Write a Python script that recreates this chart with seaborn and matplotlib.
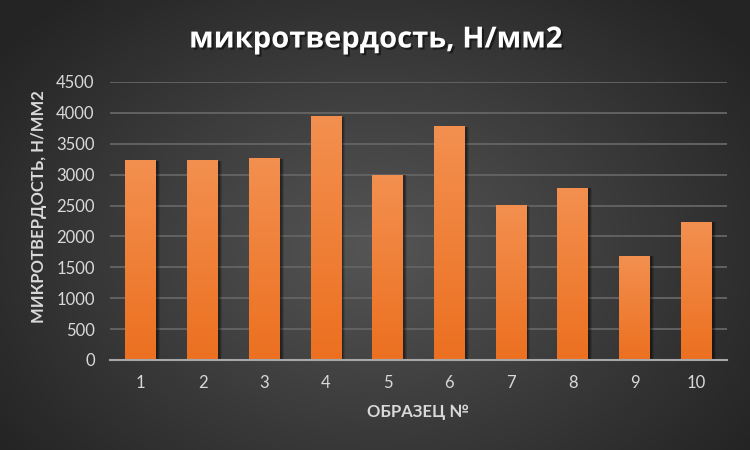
import numpy as np
import pandas as pd
import seaborn as sns
import matplotlib
matplotlib.use("Agg")
import matplotlib.pyplot as plt
import matplotlib.transforms as mtransforms
from matplotlib.patches import Rectangle
from matplotlib.colors import LinearSegmentedColormap
import matplotlib.patheffects as pe

# Data
samples = ["1", "2", "3", "4", "5", "6", "7", "8", "9", "10"]
hardness = [3240, 3240, 3270, 3950, 3000, 3780, 2510, 2790, 1690, 2240]
y_ticks = [0, 500, 1000, 1500, 2000, 2500, 3000, 3500, 4000, 4500]

title = "микротвердость, Н/мм2"
x_title = "ОБРАЗЕЦ №"
y_title = "МИКРОТВЕРДОСТЬ, Н/ММ2"

sns.set_theme(style="dark")
plt.rcParams['font.family'] = ['Lato', 'DejaVu Sans']

fig = plt.figure(figsize=(7.5, 4.5), dpi=100)

# Radial dark background
bg = fig.add_axes([0, 0, 1, 1], zorder=0)
gx, gy = np.meshgrid(np.linspace(0, 1, 750), np.linspace(0, 1, 450))
r = np.sqrt(((gx - 0.5) / 0.62) ** 2 + ((gy - 0.55) / 0.75) ** 2)
r = np.clip(r, 0, 1)
center = np.array([0x55, 0x55, 0x55]) / 255
edge = np.array([0x24, 0x24, 0x24]) / 255
img = center[None, None, :] * (1 - r[..., None]) + edge[None, None, :] * r[..., None]
bg.imshow(img, extent=[0, 1, 0, 1], aspect="auto", origin="upper")
bg.set_axis_off()

# Main axes
ax = fig.add_axes([110 / 750, 1 - 360 / 450, 617 / 750, (360 - 82) / 450], zorder=1)
ax.patch.set_alpha(0)
df = pd.DataFrame({"sample": samples, "hardness": hardness})
sns.barplot(data=df, x="sample", y="hardness", color="#f08030",
            width=0.5, saturation=1, linewidth=0, edgecolor="none", ax=ax, zorder=3)

# Orange vertical gradient fill and soft shadow on each bar
bar_cmap = LinearSegmentedColormap.from_list("bar", ["#ec7020", "#f39050"])
grad = np.linspace(0, 1, 256).reshape(-1, 1)
for patch in list(ax.patches):
    patch.set_linewidth(0)
    patch.set_edgecolor("none")
    x0, w, h = patch.get_x(), patch.get_width(), patch.get_height()
    for k, a in [(4, 0.12), (3, 0.18), (2, 0.25)]:
        off = mtransforms.offset_copy(ax.transData, fig=fig, x=k * 0.72, y=-0.5, units="points")
        ax.add_patch(Rectangle((x0, 0), w, h, transform=off, facecolor="black",
                               edgecolor="none", linewidth=0, alpha=a, zorder=2))
    im = ax.imshow(grad, extent=[x0, x0 + w, 0, h], origin="lower", aspect="auto",
                   cmap=bar_cmap, zorder=3.5)
    im.set_clip_path(patch)

ax.set_xlim(-0.5, len(samples) - 0.5)
ax.set_ylim(0, 4500)
ax.set_yticks(y_ticks)
ax.yaxis.grid(True, color="#626262", linewidth=1.4)
ax.xaxis.grid(False)
ax.set_axisbelow(True)
for s in ["top", "right", "left"]:
    ax.spines[s].set_visible(False)
ax.spines["bottom"].set_visible(True)
ax.spines["bottom"].set_color("#a8a8a8")
ax.spines["bottom"].set_linewidth(1.5)
ax.spines["bottom"].set_zorder(5)

ax.tick_params(axis="both", length=0, labelcolor="#d9d9d9", labelsize=12)
ax.tick_params(axis="y", pad=11)
ax.tick_params(axis="x", pad=11)
ax.set_xlabel("")
ax.set_ylabel("")

fig.text(375 / 750, 1 - 40 / 450, title, ha="center", va="center", color="white",
         fontsize=21, fontweight="bold", family=["Open Sans", "DejaVu Sans"],
         path_effects=[pe.withSimplePatchShadow(offset=(1.5, -1.5), shadow_rgbFace="black", alpha=0.5)])
fig.text(418 / 750, 1 - 412 / 450, x_title, ha="center", va="center", color="#d9d9d9",
         fontsize=12, fontweight="bold")
fig.text(39 / 750, 1 - 207 / 450, y_title, ha="center", va="center", rotation=90,
         color="#d9d9d9", fontsize=12, fontweight="bold")

fig.savefig("out.png", dpi=100)
